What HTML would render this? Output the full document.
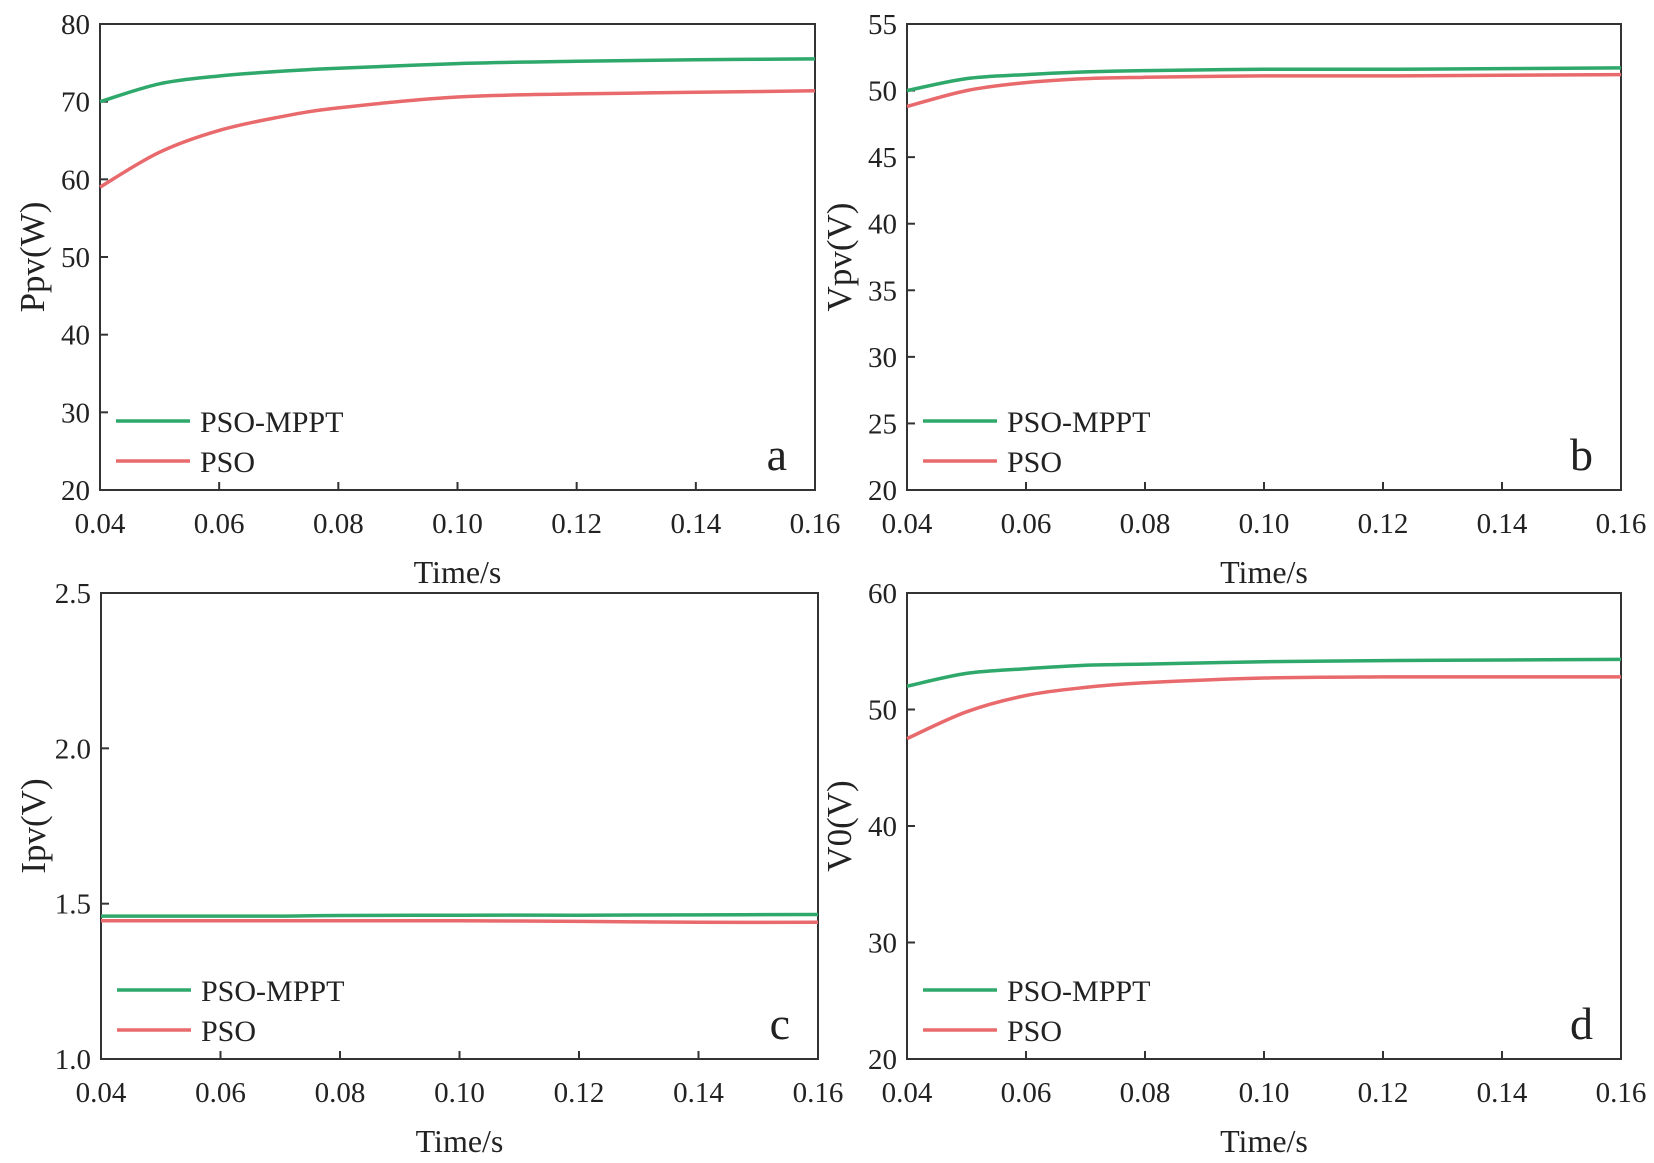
<!DOCTYPE html>
<html><head><meta charset="utf-8"><style>
html,body{margin:0;padding:0;background:#fff}
svg{display:block}
text{font-family:"Liberation Serif",serif;fill:#222}
</style></head><body>
<svg id="chart" width="1654" height="1163" viewBox="0 0 1654 1163"></svg>
<script>
const times = [0.04,0.05,0.06,0.07,0.08,0.10,0.12,0.14,0.16];
const aGreen = [70,72.3,73.3,73.9,74.3,74.9,75.2,75.4,75.5];
const aRed = [59,63.5,66.3,68.0,69.2,70.6,71.0,71.2,71.4];
const bGreen = [50,50.9,51.2,51.4,51.5,51.6,51.6,51.65,51.7];
const bRed = [48.8,50.0,50.6,50.9,51.0,51.1,51.1,51.15,51.2];
const cGreen = [1.46,1.46,1.46,1.46,1.462,1.463,1.463,1.464,1.465];
const cRed = [1.445,1.445,1.445,1.445,1.445,1.445,1.443,1.44,1.44];
const dGreen = [52,53.1,53.5,53.8,53.9,54.1,54.2,54.25,54.3];
const dRed = [47.5,49.8,51.2,51.9,52.3,52.7,52.8,52.8,52.8];
const xTicks = [0.04,0.06,0.08,0.10,0.12,0.14,0.16];
const aTicks = [20,30,40,50,60,70,80];
const bTicks = [20,25,30,35,40,45,50,55];
const cTicks = [1.0,1.5,2.0,2.5];
const dTicks = [20,30,40,50,60];
const seriesNames = ["PSO-MPPT","PSO"];

const NS="http://www.w3.org/2000/svg";
const svg=document.getElementById('chart');
function el(tag,attrs,parent){const e=document.createElementNS(NS,tag);for(const k in attrs)e.setAttribute(k,attrs[k]);(parent||svg).appendChild(e);return e;}
function smooth(pts){
  let d='M'+pts[0][0].toFixed(1)+' '+pts[0][1].toFixed(1);
  for(let i=0;i<pts.length-1;i++){
    const p0=pts[Math.max(i-1,0)],p1=pts[i],p2=pts[i+1],p3=pts[Math.min(i+2,pts.length-1)];
    const c1=[p1[0]+(p2[0]-p0[0])/6,p1[1]+(p2[1]-p0[1])/6];
    const c2=[p2[0]-(p3[0]-p1[0])/6,p2[1]-(p3[1]-p1[1])/6];
    d+=` C${c1[0].toFixed(1)} ${c1[1].toFixed(1)} ${c2[0].toFixed(1)} ${c2[1].toFixed(1)} ${p2[0].toFixed(1)} ${p2[1].toFixed(1)}`;
  }
  return d;
}

function panel(id,box,ticks,yDec,title,letter,green,red){
  const g=el('g',{});
  
  
  const [L,R,T,B]=box;
  const ymin=ticks[0],ymax=ticks[ticks.length-1];
  const xs=t=>L+(t-0.04)/(0.12)*(R-L);
  const ys=v=>B-(v-ymin)/(ymax-ymin)*(B-T);
  const frame=el('rect',{x:L,y:T,width:R-L,height:B-T,fill:'none',stroke:'#333','stroke-width':2},g);
  
  
  xTicks.forEach(t=>{
    el('line',{x1:xs(t),x2:xs(t),y1:B,y2:B-8,stroke:'#333','stroke-width':2},g);
    const tx=el('text',{x:xs(t),y:B+43,'font-size':29,'text-anchor':'middle'},g);
    tx.textContent=t.toFixed(2);
    
    
  });
  ticks.forEach(v=>{
    el('line',{x1:L,x2:L+8,y1:ys(v),y2:ys(v),stroke:'#333','stroke-width':2},g);
    const tx=el('text',{x:L-10,y:ys(v)+10,'font-size':29,'text-anchor':'end'},g);
    tx.textContent=v.toFixed(yDec);
    
    
  });
  const xt=el('text',{x:(L+R)/2,y:B+93,'font-size':32,'text-anchor':'middle'},g);
  xt.textContent='Time/s';
  
  
  const yt=el('text',{x:0,y:0,'font-size':35,'text-anchor':'middle',transform:`translate(${L-56},${(T+B)/2}) rotate(-90)`},g);
  yt.textContent=title;
  
  
  [[green,'#2fa86b'],[red,'#e86a6c']].forEach(([vals,col],i)=>{
    const pts=vals.map((v,j)=>[xs(times[j]),ys(v)]);
    const p=el('path',{d:smooth(pts),fill:'none',stroke:col,'stroke-width':3.5,'stroke-linejoin':'round'},g);
    
    
    const ly=B-69+i*40;
    const ll=el('line',{x1:L+16,x2:L+90,y1:ly,y2:ly,stroke:col,'stroke-width':3.5},g);
    
    
    const lt=el('text',{x:L+100,y:ly+11,'font-size':30},g);
    lt.textContent=seriesNames[i];
    
    
  });
  const lt=el('text',{x:R-28,y:B-20,'font-size':46,'text-anchor':'end'},g);
  lt.textContent=letter;
  
  
}
panel('a',[100,815,24,490],aTicks,0,'Ppv(W)','a',aGreen,aRed);
panel('b',[907,1621,24,490],bTicks,0,'Vpv(V)','b',bGreen,bRed);
panel('c',[101,818,593,1059],cTicks,1,'Ipv(V)','c',cGreen,cRed);
panel('d',[907,1621,593,1059],dTicks,0,'V0(V)','d',dGreen,dRed);
</script>
</body></html>
